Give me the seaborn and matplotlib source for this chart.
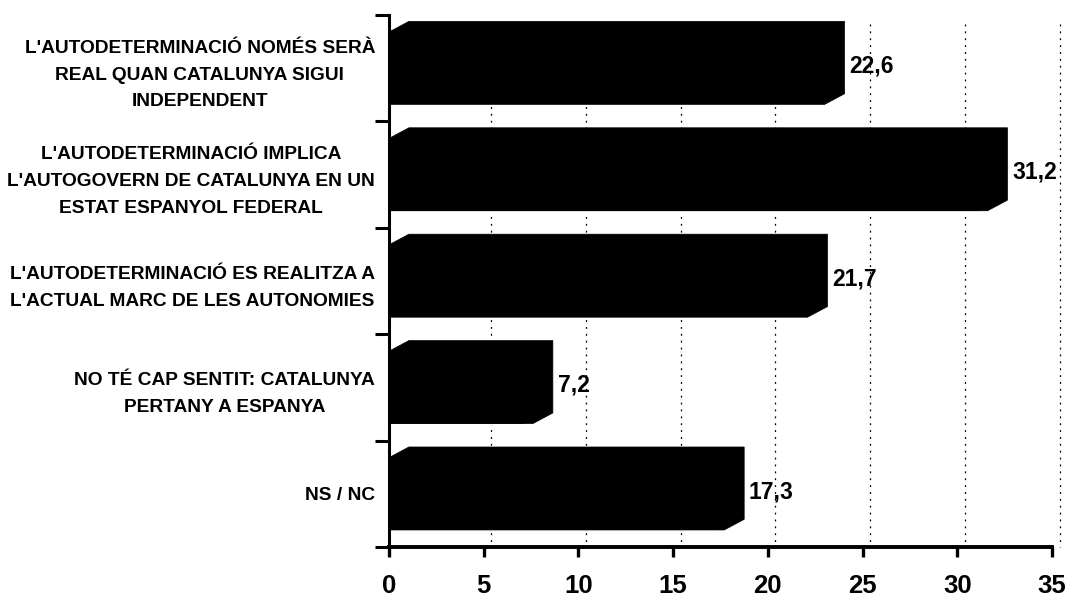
import numpy as np
import pandas as pd
import matplotlib
matplotlib.use("Agg")
import matplotlib.pyplot as plt
from matplotlib.patches import Polygon
import seaborn as sns

# --- Data ---
categories = [
    "L'AUTODETERMINACIÓ NOMÉS SERÀ\nREAL QUAN CATALUNYA SIGUI\nINDEPENDENT",
    "L'AUTODETERMINACIÓ IMPLICA\nL'AUTOGOVERN DE CATALUNYA EN UN\nESTAT ESPANYOL FEDERAL",
    "L'AUTODETERMINACIÓ ES REALITZA A\nL'ACTUAL MARC DE LES AUTONOMIES",
    "NO TÉ CAP SENTIT: CATALUNYA\nPERTANY A ESPANYA",
    "NS / NC",
]
values = [22.6, 31.2, 21.7, 7.2, 17.3]
x_ticks = [0, 5, 10, 15, 20, 25, 30, 35]

# --- 3D look (offsets in data units) ---
FRONT_EXTRA = 0.4   # front face runs a little past the value
DEPTH_X = 1.05      # back face shifted right
DEPTH_Y = 0.10      # back face shifted up
GRID_SHIFT = 0.4    # back-wall gridlines


def set_style():
    sns.set_style("white")
    plt.rcParams['font.family'] = ['Liberation Sans', 'DejaVu Sans']
    plt.rcParams['font.weight'] = 'bold'
    for k in ['axes.edgecolor', 'text.color', 'xtick.color', 'ytick.color',
              'axes.labelcolor']:
        plt.rcParams[k] = 'black'


def main():
    set_style()
    df = pd.DataFrame({"cat": categories, "val": values})

    fig = plt.figure(figsize=(10.71, 6.07), dpi=100)
    ax = fig.add_axes([389 / 1071, 1 - 547 / 607, (1052 - 389) / 1071, (547 - 15) / 607])

    sns.barplot(data=df, x="val", y="cat", orient="h", color="black",
                width=0.68, saturation=1, ax=ax, zorder=2)

    # silhouette of each 3D bar: front face plus shifted back face
    for p in ax.patches:
        x0 = p.get_x()
        w = p.get_width() + FRONT_EXTRA
        yt = p.get_y()
        yb = p.get_y() + p.get_height()
        pts = [(x0, yb), (x0, yt), (x0 + DEPTH_X, yt - DEPTH_Y),
               (x0 + w + DEPTH_X, yt - DEPTH_Y), (x0 + w + DEPTH_X, yb - DEPTH_Y),
               (x0 + w, yb)]
        ax.add_patch(Polygon(pts, closed=True, facecolor="black", edgecolor="black",
                             lw=0.5, zorder=3))

    # value labels
    for i, v in enumerate(values):
        ax.text(v + FRONT_EXTRA + DEPTH_X + 0.25, i - 0.02, f"{v:.1f}".replace(".", ","),
                ha="left", va="center", fontsize=16.5, fontweight="bold", zorder=4)

    # dotted back-wall gridlines
    ax.vlines([t + GRID_SHIFT for t in x_ticks[1:]], -0.42, 4.5, colors="black",
              linestyles=(0, (1.5, 4)), lw=0.9, zorder=1, clip_on=False)

    ax.set_xlim(0, 35)
    ax.set_ylim(4.5, -0.5)
    ax.set_xticks(x_ticks)
    ax.set_xticklabels([str(t) for t in x_ticks], fontsize=18.5, fontweight="bold")
    ax.set_yticks(range(len(categories)))
    ax.set_yticklabels(categories, fontsize=13.8, fontweight="bold", ha="right",
                       multialignment="center", linespacing=1.75)
    ax.set_yticks(np.arange(-0.5, len(categories)), minor=True)
    ax.tick_params(axis="y", which="major", left=False, length=0, pad=10)
    ax.tick_params(axis="y", which="minor", left=True, length=10, width=2.2,
                   direction="out")
    ax.tick_params(axis="x", bottom=True, length=7.5, width=2.4, direction="out", pad=12)
    ax.set_xlabel("")
    ax.set_ylabel("")

    for s in ["top", "right"]:
        ax.spines[s].set_visible(False)
    ax.spines["left"].set_linewidth(2.2)
    ax.spines["bottom"].set_linewidth(2.8)

    fig.savefig("out.png", dpi=100)
    plt.close(fig)


if __name__ == "__main__":
    main()
